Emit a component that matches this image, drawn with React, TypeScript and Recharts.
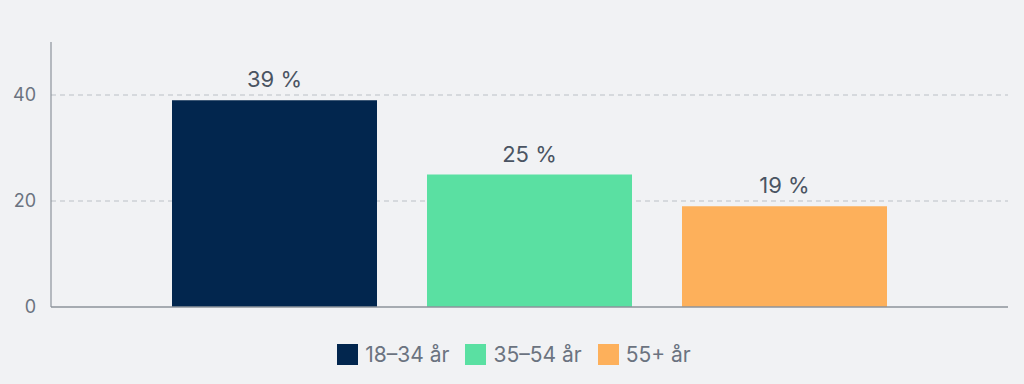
import { BarChart, Bar, XAxis, YAxis, CartesianGrid, Legend, LabelList } from 'recharts';

const groups = ['Alla'];
const young = [39];
const middle = [25];
const older = [19];
const yTicks = [0, 20, 40];
const gridLines = [20, 40];

const series = [
  { key: 'young', name: '18–34 år', color: '#02264e' },
  { key: 'middle', name: '35–54 år', color: '#5ae0a2' },
  { key: 'older', name: '55+ år', color: '#fdb05b' },
];

const data = groups.map((g, i) => ({
  name: g,
  young: young[i],
  middle: middle[i],
  older: older[i],
}));

const font = 'Inter, "Noto Sans", sans-serif';

function LegendContent() {
  return (
    <div style={{ display: 'flex', justifyContent: 'center', gap: 16, fontFamily: font, paddingLeft: 20 }}>
      {series.map((s) => (
        <div key={s.key} style={{ display: 'flex', alignItems: 'center', gap: 7 }}>
          <span style={{ width: 21, height: 21, background: s.color, display: 'inline-block' }} />
          <span style={{ fontSize: 21, color: '#6b7380' }}>{s.name}</span>
        </div>
      ))}
    </div>
  );
}

export default function App() {
  return (
    <div style={{ position: 'absolute', left: 0, top: 0, width: 1024, height: 384, background: '#f1f2f4' }}>
      <BarChart
        width={1024}
        height={384}
        data={data}
        margin={{ top: 42, right: 16, left: 0, bottom: 51 }}
        barSize={205}
        barGap={50}
      >
        <CartesianGrid
          vertical={false}
          horizontalValues={gridLines}
          stroke="#bcc0c5"
          strokeDasharray="5 4"
          strokeWidth={1.2}
        />
        <XAxis
          dataKey="name"
          tick={false}
          tickLine={false}
          height={1}
          axisLine={{ stroke: '#8d939b', strokeWidth: 1.5 }}
        />
        <YAxis
          width={51}
          domain={[0, 50]}
          ticks={yTicks}
          tickLine={false}
          axisLine={{ stroke: '#8d939b', strokeWidth: 1.2 }}
          tick={{ fill: '#6b7380', fontSize: 18, fontFamily: font }}
          tickMargin={9}
        />
        <Legend verticalAlign="bottom" content={<LegendContent />} wrapperStyle={{ bottom: 17 }} />
        {series.map((s) => (
          <Bar key={s.key} dataKey={s.key} name={s.name} fill={s.color} isAnimationActive={false}>
            <LabelList
              dataKey={s.key}
              position="top"
              offset={13}
              formatter={(v: number) => `${v} %`}
              style={{ fill: '#4a5462', fontSize: 22, fontFamily: font }}
            />
          </Bar>
        ))}
      </BarChart>
    </div>
  );
}
